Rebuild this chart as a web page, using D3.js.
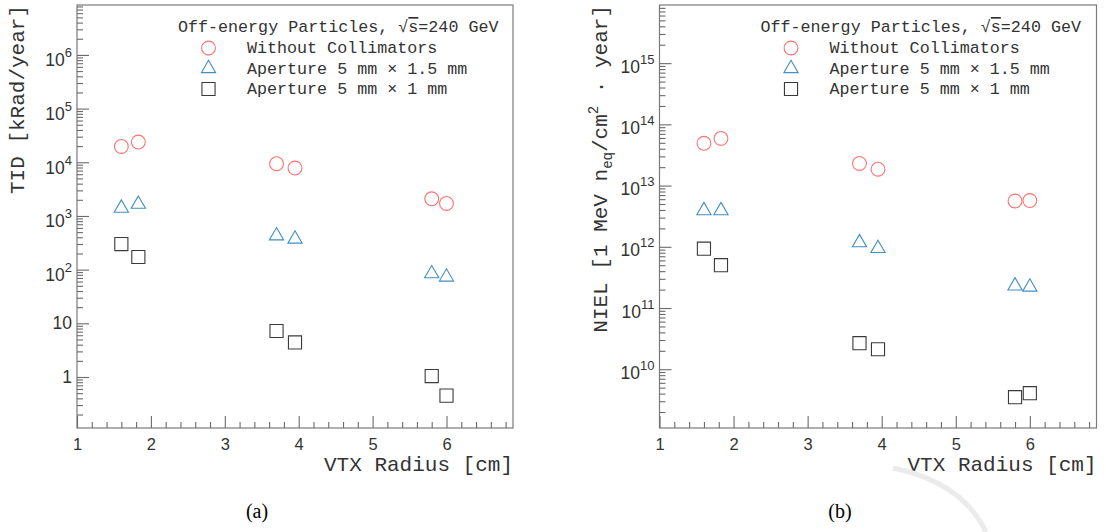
<!DOCTYPE html>
<html>
<head>
<meta charset="utf-8">
<script src="https://cdn.jsdelivr.net/npm/d3@7"></script>
<style>
  body { margin: 0; background: #fff; }
  svg { display: block; }
</style>
</head>
<body>
<div id="chart"></div>
<script>
// values
var radius = [1.6, 1.83, 3.7, 3.95, 5.8, 6.0];

var tidNoColl = [1.97e4, 2.38e4, 9.4e3, 7.8e3, 2.09e3, 1.71e3];
var tidAp15 = [1.4e3, 1.66e3, 428, 372, 84, 73];
var tidAp1 = [300, 172, 7.2, 4.4, 1.04, 0.45];

var nielNoColl = [4.9e13, 5.9e13, 2.3e13, 1.85e13, 5.6e12, 5.7e12];
var nielAp15 = [3.9e12, 3.9e12, 1.17e12, 9.4e11, 2.3e11, 2.2e11];
var nielAp1 = [9.3e11, 5.0e11, 2.66e10, 2.12e10, 3.5e9, 4.06e9];

var legendTitle = "Off-energy Particles, ";
var legendLabels = ["Without Collimators", "Aperture 5 mm \u00d7 1.5 mm", "Aperture 5 mm \u00d7 1 mm"];
var xTicks = [1, 2, 3, 4, 5, 6];

var colors = ["#ff7070", "#4090c2", "#3a3a3a"];
var symbols = [d3.symbolCircle, d3.symbolTriangle, d3.symbolSquare];
var symSizes = [150, 88, 172];

var mono = "'Liberation Mono', 'DejaVu Sans Mono', monospace";
var sans = "'Liberation Sans', Arial, sans-serif";

var svg = d3.select("#chart").append("svg")
  .attr("width", 1106)
  .attr("height", 532);

function drawPanel(p) {
  var g = svg.append("g");

  var x = d3.scaleLinear()
    .domain([1, 6.9])
    .range([p.left, p.right]);

  var y = d3.scaleLog()
    .domain(p.yDomain)
    .range([428, 5]);

  // frame
  g.append("rect")
    .attr("x", p.left)
    .attr("y", 5)
    .attr("width", p.right - p.left)
    .attr("height", 423)
    .attr("fill", "none")
    .attr("stroke", "#7a7a7a")
    .attr("stroke-width", 1.2);

  // minor ticks, log axis
  var lo = Math.floor(Math.log10(p.yDomain[0])), hi = Math.ceil(Math.log10(p.yDomain[1]));
  var yMinor = [], yMajor = [];
  for (var e = lo; e <= hi; e++) {
    var base = Math.pow(10, e);
    if (base >= p.yDomain[0] && base <= p.yDomain[1]) yMajor.push(base);
    for (var m = 2; m <= 9; m++) {
      var v = m * base;
      if (v >= p.yDomain[0] && v <= p.yDomain[1]) yMinor.push(v);
    }
  }

  g.append("g")
    .attr("transform", "translate(" + p.left + ",0)")
    .call(d3.axisLeft(y).tickValues(yMinor).tickSizeInner(-6).tickSizeOuter(0).tickFormat(""));

  var yAx = g.append("g")
    .attr("transform", "translate(" + p.left + ",0)")
    .call(d3.axisLeft(y).tickValues(yMajor).tickSizeInner(-12).tickSizeOuter(0).tickPadding(5)
      .tickFormat(function (d) { return Math.round(Math.log10(d)) === 0 ? "1" : "10"; }));

  yAx.selectAll(".tick text").each(function (d) {
    var ex = Math.round(Math.log10(d));
    if (ex >= 2) {
      var t = d3.select(this).text(null).attr("dy", null);
      t.append("tspan").attr("dy", p.baseDy).text("10");
      t.append("tspan").attr("dy", -9).style("font-size", "13px").text(ex);
    }
  });

  var xMinor = d3.range(1.2, 6.85, 0.2).filter(function (v) { return Math.abs(v - Math.round(v)) > 0.05; });

  g.append("g")
    .attr("transform", "translate(0,428)")
    .call(d3.axisBottom(x).tickValues(xMinor).tickSizeInner(-6).tickSizeOuter(0).tickFormat(""));

  g.append("g")
    .attr("transform", "translate(0,428)")
    .call(d3.axisBottom(x).tickValues(xTicks).tickSizeInner(-12).tickSizeOuter(0).tickPadding(10)
      .tickFormat(d3.format("d")))
    .selectAll("text").style("font-size", "16.5px");

  g.selectAll(".domain").remove();
  g.selectAll(".tick line").attr("stroke", "#6a6a6a").attr("stroke-width", 1.1);
  g.selectAll(".tick text")
    .attr("fill", "#333")
    .style("font-family", sans);
  yAx.selectAll(".tick text").style("font-size", "17.5px");

  // axis titles
  g.append("text")
    .attr("x", p.right)
    .attr("y", 471)
    .attr("text-anchor", "end")
    .attr("fill", "#333")
    .style("font-family", mono)
    .style("font-size", "21px")
    .text("VTX Radius [cm]");

  var yt = g.append("text")
    .attr("transform", "translate(" + p.yTitleX + ",5) rotate(-90)")
    .attr("text-anchor", "end")
    .attr("fill", "#333")
    .style("font-family", mono)
    .style("font-size", "21px");
  p.yTitle(yt);

  // data
  p.series.forEach(function (vals, si) {
    g.append("g").selectAll("path")
      .data(vals)
      .enter()
      .append("path")
      .attr("transform", function (d, i) { return "translate(" + x(radius[i]) + "," + y(d) + ")"; })
      .attr("d", d3.symbol().type(symbols[si]).size(symSizes[si]))
      .attr("fill", "none")
      .attr("stroke", colors[si])
      .attr("stroke-width", 1.1);
  });

  // legend
  var lt = g.append("text")
    .attr("x", p.left + 101)
    .attr("y", 32)
    .attr("fill", "#333")
    .style("font-family", mono)
    .style("font-size", "16.7px")
    .text(legendTitle);
  lt.append("tspan").text("\u221a");
  lt.append("tspan").style("text-decoration", "overline").text("s");
  lt.append("tspan").text("=240 GeV");

  legendLabels.forEach(function (lab, i) {
    var ly = 53 + i * 20.5;
    g.append("path")
      .attr("transform", "translate(" + (p.left + 131.5) + "," + (ly - 5) + ")")
      .attr("d", d3.symbol().type(symbols[i]).size(symSizes[i]))
      .attr("fill", "none")
      .attr("stroke", colors[i])
      .attr("stroke-width", 1.1);
    g.append("text")
      .attr("x", p.left + 170)
      .attr("y", ly)
      .attr("fill", "#333")
      .style("font-family", mono)
      .style("font-size", "16.7px")
      .text(lab);
  });

  svg.append("text")
    .attr("x", p.subX)
    .attr("y", 518)
    .attr("text-anchor", "middle")
    .attr("fill", "#000")
    .style("font-family", "'Liberation Serif', 'Times New Roman', serif")
    .style("font-size", "20px")
    .text(p.sub);
}

drawPanel({
  left: 77, right: 513,
  yDomain: [Math.pow(10, -0.95), Math.pow(10, 6.93)],
  baseDy: 11,
  series: [tidNoColl, tidAp15, tidAp1],
  yTitleX: 24,
  yTitle: function (t) { t.text("TID [kRad/year]"); },
  sub: "(a)", subX: 257
});

drawPanel({
  left: 659.5, right: 1096.5,
  yDomain: [Math.pow(10, 9.04), Math.pow(10, 15.95)],
  baseDy: 9,
  series: [nielNoColl, nielAp15, nielAp1],
  yTitleX: 607,
  yTitle: function (t) {
    t.append("tspan").text("NIEL [1 MeV n");
    t.append("tspan").attr("dy", 5).style("font-size", "14px").text("eq");
    t.append("tspan").attr("dy", -5).text("/cm");
    t.append("tspan").attr("dy", -9).style("font-size", "14px").text("2");
    t.append("tspan").attr("dy", 9).text(" \u00b7 year]");
  },
  sub: "(b)", subX: 840
});

// faint watermark stroke at bottom right
svg.append("path")
  .attr("d", "M893,468 Q962,482 986,532")
  .attr("fill", "none")
  .attr("stroke", "#ebebeb")
  .attr("stroke-width", 5);
</script>
</body>
</html>
